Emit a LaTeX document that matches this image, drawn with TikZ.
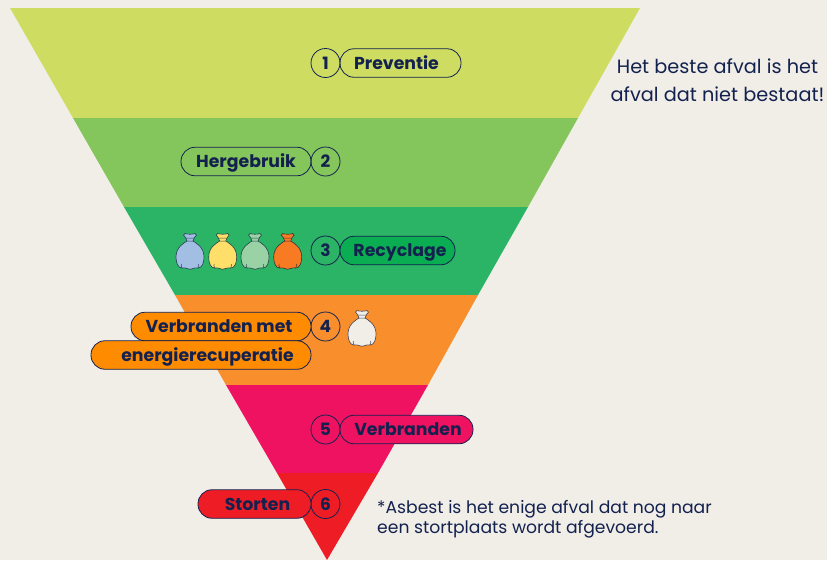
\documentclass[tikz,border=0pt]{standalone}
\usepackage{fontspec}
\setmainfont{Poppins}
\usetikzlibrary{
  positioning
}
\definecolor{ink}{HTML}{13214F}
\definecolor{paper}{HTML}{F1EEE8}
\definecolor{lime}{HTML}{CEDD62}
\definecolor{leaf}{HTML}{84C65B}
\definecolor{grass}{HTML}{2BB465}
\definecolor{grassdark}{HTML}{0BAD52}
\definecolor{amber}{HTML}{F98F2C}
\definecolor{amberdark}{HTML}{FF8C00}
\definecolor{rose}{HTML}{EF1261}
\definecolor{tomato}{HTML}{EE1D25}
\definecolor{bagblue}{HTML}{A2BEE3}
\definecolor{bagyellow}{HTML}{FFDE6A}
\definecolor{baggreen}{HTML}{9BD2A5}
\definecolor{bagorange}{HTML}{F87B23}

\begin{document}
\begin{tikzpicture}[
    x=1pt, y=-1pt,
    step number/.style={
      circle,
      draw=ink,
      line width=0.8pt,
      minimum size=29pt,
      inner sep=0pt,
      outer sep=0pt,
      text=ink,
      text height=12.5pt,
      text depth=0pt,
      font=\fontsize{17}{20}\selectfont\bfseries
    },
    pill/.style={
      rectangle,
      draw=ink,
      line width=0.8pt,
      rounded corners=14pt,
      minimum height=28.5pt,
      inner xsep=0pt,
      inner ysep=0pt,
      outer sep=0pt,
      text=ink,
      text height=12.5pt,
      text depth=0pt,
      font=\fontsize{17.3}{20}\selectfont\bfseries
    },
    remark/.style={
      text=ink,
      inner sep=0pt
    },
    bag/.pic={
      \path[pic actions, draw=ink!70!black, draw opacity=0.75, line width=0.6pt]
        (-3,8) -- (-4.5,4.5) .. controls (-7,3.5) and (-7,0.5) .. (-5,0.5)
        .. controls (-3,1.5) and (3,1.5) .. (5,0.5)
        .. controls (7,0.5) and (7,3.5) .. (4.5,4.5) -- (3,8)
        .. controls (6,10) and (14,14) .. (14,24)
        .. controls (14,30) and (12,35) .. (8,35)
        .. controls (6,35) and (4.5,34.5) .. (3,35.5)
        .. controls (1,36.5) and (-1,36.5) .. (-3,35.5)
        .. controls (-4.5,34.5) and (-6,35) .. (-8,35)
        .. controls (-12,35) and (-14,30) .. (-14,24)
        .. controls (-14,14) and (-6,10) .. (-3,8) -- cycle;
      \draw[draw=ink!70!black, draw opacity=0.75, line width=0.5pt]
        (-4,5) -- (4,5) (-3,8) -- (3,8)
        (-8,35) .. controls (-9,33) and (-9,32) .. (-8.5,31)
        (8,35) .. controls (9,33) and (9,32) .. (8.5,31);
    }
  ]

  \useasboundingbox (0,0) rectangle (827,560);
  \fill[paper] (0,0) rectangle (827,560);

  % Bands of the funnel
  \fill[lime] (10,8) -- (640,8) -- (578,118) -- (73,118) -- cycle;
  \fill[leaf] (73,118) -- (578,118) -- (528,207) -- (124,207) -- cycle;
  \fill[grass] (124,207) -- (528,207) -- (478,295) -- (175,295) -- cycle;
  \fill[amber] (175,295) -- (478,295) -- (428,385) -- (226,385) -- cycle;
  \fill[rose] (226,385) -- (428,385) -- (378,473) -- (277,473) -- cycle;
  \fill[tomato] (277,473) -- (378,473) -- (327,560) -- cycle;

  % Numbers
  \node[step number] (one) at (325.5,63) {1};
  \node[step number] (two) at (325.5,161.5) {2};
  \node[step number] (three) at (325.5,250.5) {3};
  \node[step number] (four) at (325.5,326.5) {4};
  \node[step number] (five) at (325.5,429.5) {5};
  \node[step number] (six) at (325.5,504) {6};

  % Right of the numbers
  \node[pill, anchor=west, minimum width=121pt] (preventie) at (one.east) {Preventie\hspace*{8pt}};
  \node[pill, anchor=west, minimum width=115pt] (recyclage) at (three.east) [fill=grassdark] {\hspace*{5pt}Recyclage};
  \node[pill, anchor=west, minimum width=133pt] (verbranden) at (five.east) [fill=rose] {\hspace*{3pt}Verbranden};

  % Left of the numbers
  \node[pill, anchor=east, minimum width=130pt] (hergebruik) at (two.west) {Hergebruik};
  \node[pill, anchor=east, minimum width=180pt] (energiea) at (four.west) [fill=amberdark] {Verbranden met\hspace*{4pt}};
  \node[pill, anchor=north east, minimum width=220pt] (energieb) at (energiea.south east) [fill=amberdark] {\hspace*{13pt}energierecuperatie};
  \node[pill, anchor=east, minimum width=113pt] (storten) at (six.west) [fill=tomato] {\hspace*{6pt}Storten};

  % Bags
  \pic[fill=bagblue] at (190,233) {bag};
  \pic[fill=bagyellow] at (222.7,233) {bag};
  \pic[fill=baggreen] at (255,233) {bag};
  \pic[fill=bagorange] at (287.7,233) {bag};
  \pic[fill=paper] at (362,310) {bag};

  % Remarks
  \node[remark, align=center, font=\fontsize{19.3}{28}\selectfont] (best) at (717.5,80) {Het beste afval is het\\afval dat niet bestaat!};
  \node[remark, align=left, anchor=west, font=\fontsize{17.2}{20}\selectfont] (asbest) at (377,519.5) {*Asbest is het enige afval dat nog naar\\een stortplaats wordt afgevoerd.};

\end{tikzpicture}
\end{document}
